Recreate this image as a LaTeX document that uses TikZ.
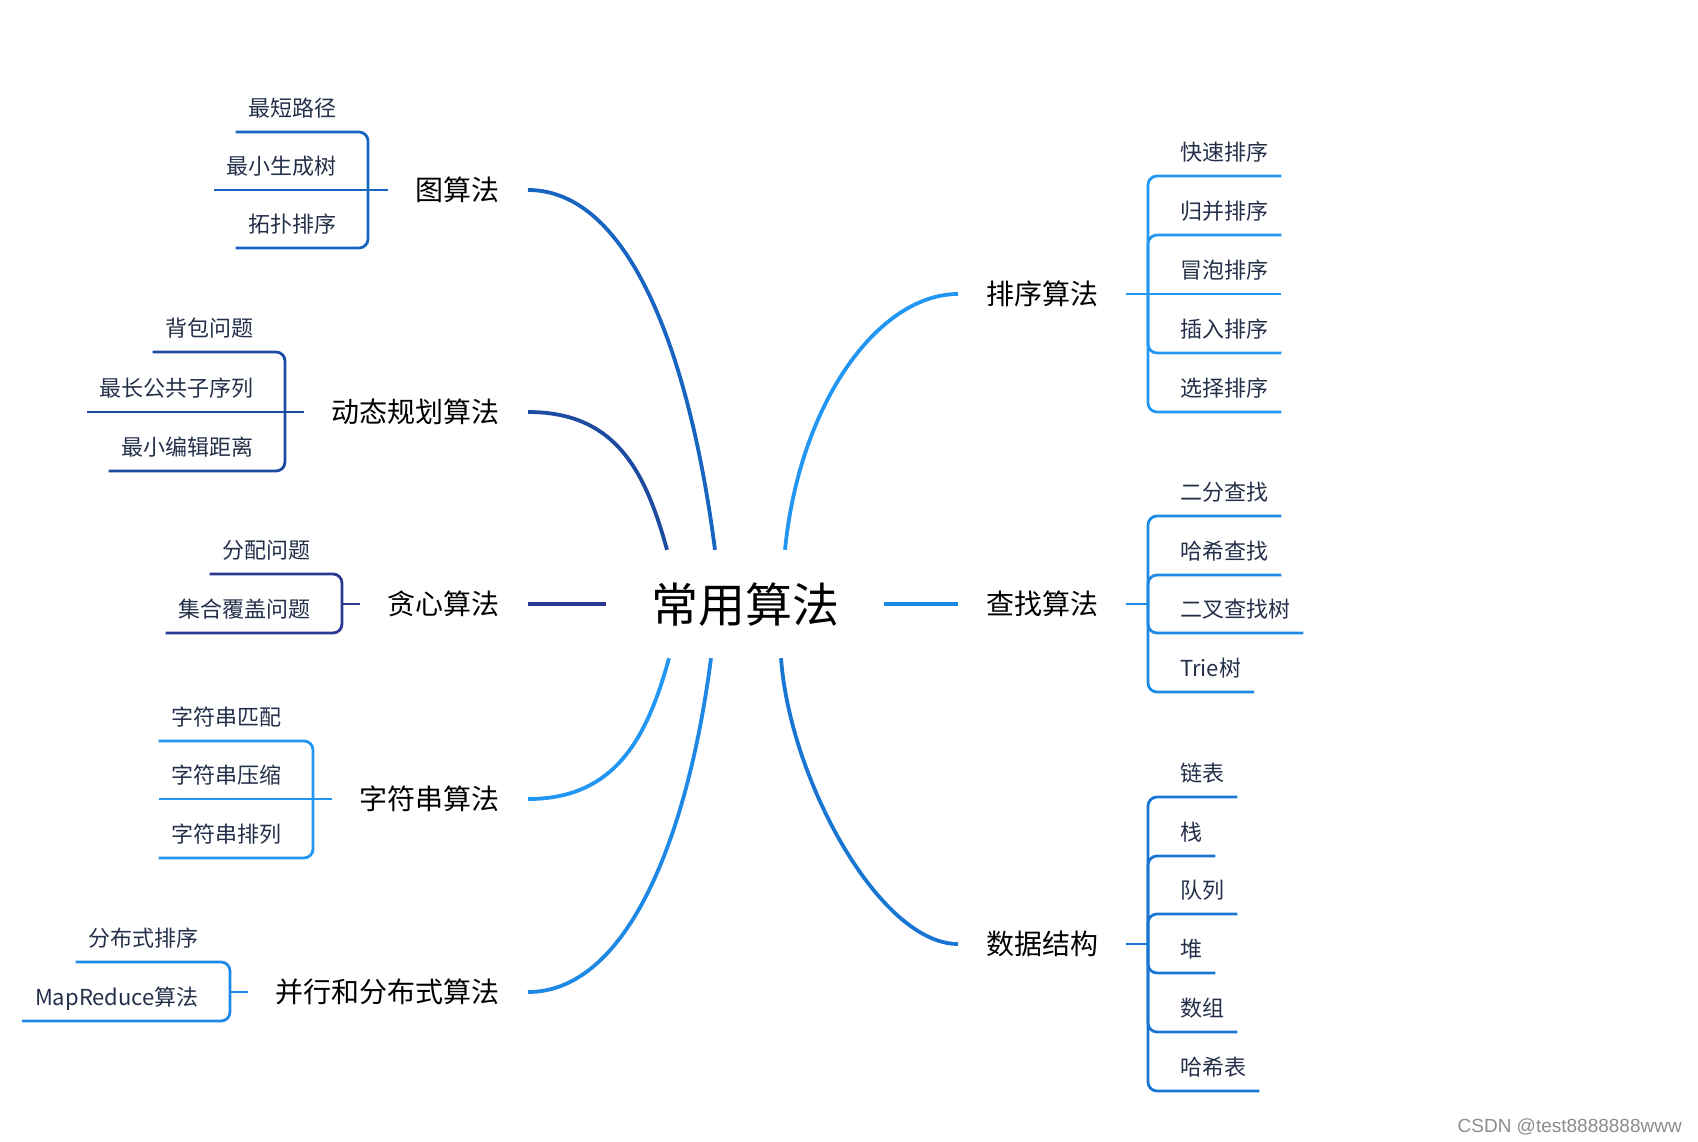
\documentclass[tikz,border=0pt]{standalone}
\usepackage{fontspec}
\setmainfont{Noto Sans CJK SC}
\newfontfamily\wmfont{Liberation Sans}
\definecolor{cA}{HTML}{1765C0}
\definecolor{cB}{HTML}{1C4BA0}
\definecolor{cC}{HTML}{2B3990}
\definecolor{cD}{HTML}{2196F3}
\definecolor{cE}{HTML}{1E88E5}
\definecolor{cF}{HTML}{2196F3}
\definecolor{cG}{HTML}{1E88E5}
\definecolor{cH}{HTML}{1976D2}
\definecolor{leafc}{HTML}{24304A}
\begin{document}
\begin{tikzpicture}[x=1pt,y=-1pt,
  leaf/.style={inner xsep=13pt, inner ysep=0pt, text height=17pt, text depth=15.5pt,
    font=\fontsize{22}{26}\selectfont, text=leafc},
  parent/.style={inner xsep=28pt, inner ysep=0pt, text height=23pt, text depth=2pt,
    font=\fontsize{28}{33}\selectfont, text=black},
  rootnode/.style={inner sep=0pt, minimum width=278pt, minimum height=108pt,
    text height=39pt, text depth=3pt, font=\fontsize{47}{56}\selectfont, text=black},
  main/.style={line width=3.8pt},
  sub/.style={line width=2.8pt, rounded corners=9pt}]
\useasboundingbox (0,0) rectangle (1698,1141);

% root
\node[rootnode] (ctr) at (745,604) {常用算法};

% ---------- left parents ----------
\node[parent, anchor=east] (p1) at (528,190) {图算法};
\node[parent, anchor=east] (p2) at (528,412) {动态规划算法};
\node[parent, anchor=east] (p3) at (528,604) {贪心算法};
\node[parent, anchor=east] (p4) at (528,799) {字符串算法};
\node[parent, anchor=east] (p5) at (528,992) {并行和分布式算法};
% ---------- right parents ----------
\node[parent, anchor=west] (p6) at (958,294) {排序算法};
\node[parent, anchor=west] (p7) at (958,604) {查找算法};
\node[parent, anchor=west] (p8) at (958,944) {数据结构};

% main connectors
\draw[main, cA] (p1.east) .. controls +(100,0) and +(-26,-200) .. ([xshift=-30pt]ctr.north);
\draw[main, cB] (p2.east) .. controls +(87,0) and +(-22,-80) .. ([xshift=-78pt]ctr.north);
\draw[main, cC] (p3.east) -- (ctr.west);
\draw[main, cD] (p4.east) .. controls +(87,0) and +(-22,80) .. ([xshift=-76pt]ctr.south);
\draw[main, cE] (p5.east) .. controls +(97,0) and +(-24,185) .. ([xshift=-34pt]ctr.south);
\draw[main, cF] (p6.west) .. controls +(-78,0) and +(15,-150) .. ([xshift=40pt]ctr.north);
\draw[main, cG] (ctr.east) -- (p7.west);
\draw[main, cH] (p8.west) .. controls +(-78,0) and +(9,122) .. ([xshift=36pt]ctr.south);

% ---------- 图算法 ----------
\coordinate (b1) at (368,190);
\draw[sub, cA] (p1.west) -- (b1);
\node[leaf, anchor=south east] (a11) at (350,132) {最短路径};
\node[leaf, anchor=south east] (a12) at (350,190) {最小生成树};
\node[leaf, anchor=south east] (a13) at (350,248) {拓扑排序};
\draw[sub, cA] (b1) |- (a11.south west);
\draw[sub, cA] (b1) -- (a12.south west);
\draw[sub, cA] (b1) |- (a13.south west);

% ---------- 动态规划算法 ----------
\coordinate (b2) at (285,412);
\draw[sub, cB] (p2.west) -- (b2);
\node[leaf, anchor=south east] (a21) at (267,352) {背包问题};
\node[leaf, anchor=south east] (a22) at (267,412) {最长公共子序列};
\node[leaf, anchor=south east] (a23) at (267,471) {最小编辑距离};
\draw[sub, cB] (b2) |- (a21.south west);
\draw[sub, cB] (b2) -- (a22.south west);
\draw[sub, cB] (b2) |- (a23.south west);

% ---------- 贪心算法 ----------
\coordinate (b3) at (342,604);
\draw[sub, cC] (p3.west) -- (b3);
\node[leaf, anchor=south east] (a31) at (324,574) {分配问题};
\node[leaf, anchor=south east] (a32) at (324,633) {集合覆盖问题};
\draw[sub, cC] (b3) |- (a31.south west);
\draw[sub, cC] (b3) |- (a32.south west);

% ---------- 字符串算法 ----------
\coordinate (b4) at (313,799);
\draw[sub, cD] (p4.west) -- (b4);
\node[leaf, anchor=south east] (a41) at (295,741) {字符串匹配};
\node[leaf, anchor=south east] (a42) at (295,799) {字符串压缩};
\node[leaf, anchor=south east] (a43) at (295,858) {字符串排列};
\draw[sub, cD] (b4) |- (a41.south west);
\draw[sub, cD] (b4) -- (a42.south west);
\draw[sub, cD] (b4) |- (a43.south west);

% ---------- 并行和分布式算法 ----------
\coordinate (b5) at (230,992);
\draw[sub, cE] (p5.west) -- (b5);
\node[leaf, anchor=south east] (a51) at (212,962) {分布式排序};
\node[leaf, anchor=south east] (a52) at (212,1021) {MapReduce算法};
\draw[sub, cE] (b5) |- (a51.south west);
\draw[sub, cE] (b5) |- (a52.south west);

% ---------- 排序算法 ----------
\coordinate (b6) at (1148,294);
\draw[sub, cF] (p6.east) -- (b6);
\node[leaf, anchor=south west] (a61) at (1167,176) {快速排序};
\node[leaf, anchor=south west] (a62) at (1167,235) {归并排序};
\node[leaf, anchor=south west] (a63) at (1167,294) {冒泡排序};
\node[leaf, anchor=south west] (a64) at (1167,353) {插入排序};
\node[leaf, anchor=south west] (a65) at (1167,412) {选择排序};
\draw[sub, cF] (b6) |- (a61.south east);
\draw[sub, cF] (b6) |- (a62.south east);
\draw[sub, cF] (b6) -- (a63.south east);
\draw[sub, cF] (b6) |- (a64.south east);
\draw[sub, cF] (b6) |- (a65.south east);

% ---------- 查找算法 ----------
\coordinate (b7) at (1148,604);
\draw[sub, cG] (p7.east) -- (b7);
\node[leaf, anchor=south west] (a71) at (1167,516) {二分查找};
\node[leaf, anchor=south west] (a72) at (1167,575) {哈希查找};
\node[leaf, anchor=south west] (a73) at (1167,633) {二叉查找树};
\node[leaf, anchor=south west] (a74) at (1167,692) {Trie树};
\draw[sub, cG] (b7) |- (a71.south east);
\draw[sub, cG] (b7) |- (a72.south east);
\draw[sub, cG] (b7) |- (a73.south east);
\draw[sub, cG] (b7) |- (a74.south east);

% ---------- 数据结构 ----------
\coordinate (b8) at (1148,944);
\draw[sub, cH] (p8.east) -- (b8);
\node[leaf, anchor=south west] (a81) at (1167,797) {链表};
\node[leaf, anchor=south west] (a82) at (1167,856) {栈};
\node[leaf, anchor=south west] (a83) at (1167,914) {队列};
\node[leaf, anchor=south west] (a84) at (1167,973) {堆};
\node[leaf, anchor=south west] (a85) at (1167,1032) {数组};
\node[leaf, anchor=south west] (a86) at (1167,1091) {哈希表};
\draw[sub, cH] (b8) |- (a81.south east);
\draw[sub, cH] (b8) |- (a82.south east);
\draw[sub, cH] (b8) |- (a83.south east);
\draw[sub, cH] (b8) |- (a84.south east);
\draw[sub, cH] (b8) |- (a85.south east);
\draw[sub, cH] (b8) |- (a86.south east);

% watermark
\node[anchor=base east, inner sep=0pt, font=\wmfont\fontsize{19}{22}\selectfont, text=black!45] (wm) at (1682,1132) {CSDN @test8888888www};
\end{tikzpicture}
\end{document}
